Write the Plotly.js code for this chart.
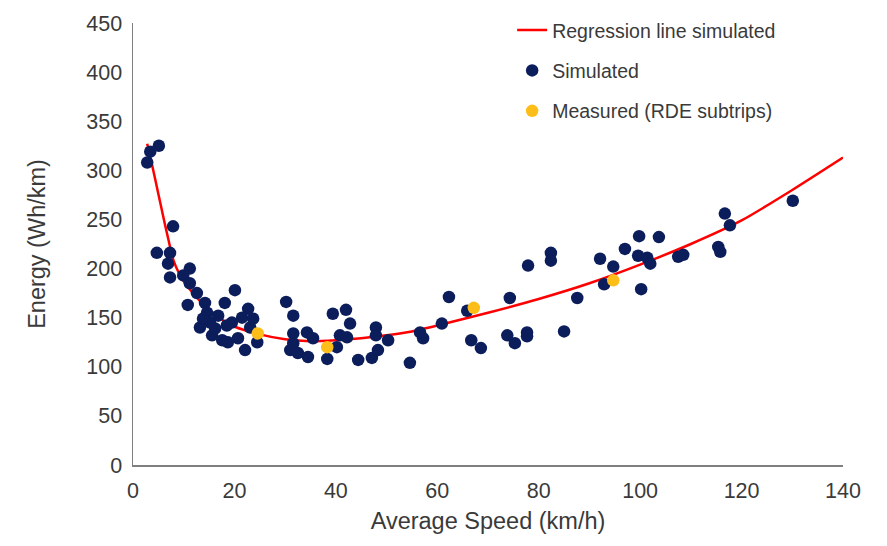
<!DOCTYPE html>
<html>
<head>
<meta charset="utf-8">
<script src="https://cdn.plot.ly/plotly-3.0.1.min.js"></script>
<style>html,body{margin:0;padding:0;background:#fff;}#chart{width:887px;height:546px;}</style>
</head>
<body>
<div id="chart"></div>
<script>
// Regression line
const regSpeed  = [2.8,3.7,5,6,7,8,9,10,12,14,17,20,25,30,35,40,45,50,55,60,70,80,90,100,110,120,130,140];
const regEnergy = [327,307,276,252,229,208,196,187,174,163,150,141,133,128,126,127,129,132,136,142,155,169,185,204,225,249,280,313];

// Simulated points
const simSpeed = [2.8,3.4,5.1,4.7,7.9,7.3,6.9,11.2,7.3,9.9,11.2,12.6,20.1,10.8,14.2,18.1,22.7,14.6,16.8,13.2,15.2,18.5,21.5,23.1,15.6,17.6,18.7,22.1,24.5,16.2,19.5,20.7,23.7,13.8,
  30.2,31.6,39.4,42.0,42.8,31.6,34.3,35.5,31.0,32.5,34.5,40.8,42.2,40.2,38.3,44.4,47.9,47.9,47.1,48.3,50.3,54.6,56.6,57.2,60.9,62.3,31.6,
  65.9,66.7,68.6,73.8,75.3,74.3,77.7,77.7,77.9,82.4,82.4,85.0,87.6,92.1,94.7,92.9,100.2,97.0,99.8,103.7,99.6,101.4,102.0,107.5,108.5,115.4,115.8,116.7,117.7,130.1];
const simEnergy = [308,319,325,216,243,216,205,200,191,193,185,175,178,163,165,165,159,155,152,140,145,142,150,140,132,127,125,117,125,139,145,129,149,149,
  166,152,154,158,144,134,135,129,117,114,110,132,130,120,108,107,140,132,109,117,127,104,135,129,144,171,124,
  157,127,119,132,124,170,135,131,203,216,208,136,170,210,202,184,179,220,233,232,213,211,205,212,214,222,217,256,244,269];

// Measured points (RDE subtrips)
const measSpeed  = [24.6,38.3,67.2,94.7];
const measEnergy = [134,120,160,188];

const font = 'Liberation Sans, Arial, sans-serif';
const txt = '#3a3a3a';

const traces = [
  {x: regSpeed, y: regEnergy, type: 'scatter', mode: 'lines', name: 'Regression line simulated',
   line: {color: '#FF0000', width: 2.5, shape: 'spline', smoothing: 0.6}, legendgroup: 'a'},
  {x: simSpeed, y: simEnergy, type: 'scatter', mode: 'markers', name: 'Simulated',
   marker: {color: '#0B1D5B', size: 12.5}, legendgroup: 'b'},
  {x: measSpeed, y: measEnergy, type: 'scatter', mode: 'markers', name: 'Measured (RDE subtrips)',
   marker: {color: '#FDBE1A', size: 12.5}, legendgroup: 'c'}
];

const layout = {
  width: 887, height: 546,
  margin: {l: 133, r: 44, t: 22, b: 81},
  paper_bgcolor: '#fff', plot_bgcolor: '#fff',
  font: {family: font, color: txt},
  showlegend: true,
  legend: {x: 0.534, y: 1.025, xanchor: 'left', yanchor: 'top', bgcolor: 'rgba(0,0,0,0)',
           font: {size: 19.5, color: txt, family: font}, tracegroupgap: 12, traceorder: 'grouped'},
  xaxis: {range: [0, 140], dtick: 20, tick0: 0, showgrid: false, zeroline: false,
          showline: true, linecolor: '#7f7f7f', linewidth: 1.5, ticks: '',
          tickfont: {size: 21.5, color: txt, family: font}, ticklabelstandoff: 6,
          title: {text: 'Average Speed (km/h)', font: {size: 23.5, color: txt, family: font}, standoff: 10}},
  yaxis: {range: [0, 450], dtick: 50, tick0: 0, showgrid: false, zeroline: false,
          showline: true, linecolor: '#7f7f7f', linewidth: 1.5, ticks: '',
          tickfont: {size: 21.5, color: txt, family: font}, ticklabelstandoff: 5,
          title: {text: 'Energy (Wh/km)', font: {size: 23.5, color: txt, family: font}, standoff: 34}}
};

Plotly.newPlot('chart', traces, layout, {displayModeBar: false, staticPlot: true});
</script>
</body>
</html>
